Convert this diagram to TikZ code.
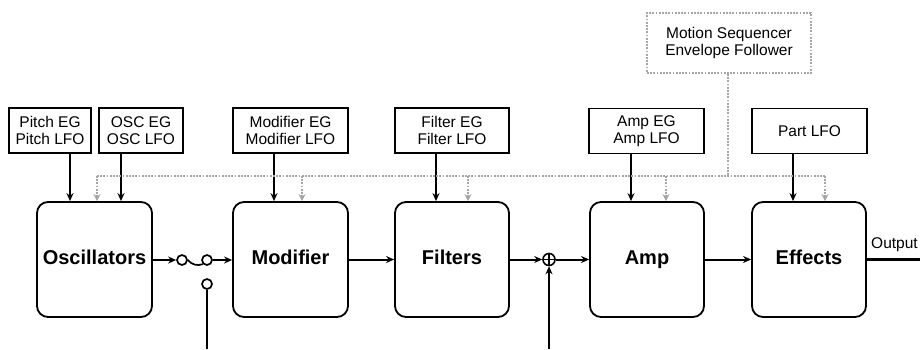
\documentclass[tikz,border=0pt]{standalone}
\usepackage{fontspec}
\setmainfont{Liberation Sans}
\usetikzlibrary{arrows.meta}
\tikzset{
  srcbox/.style={draw, line width=1.8pt, minimum height=45pt, inner sep=0pt, align=center, font=\fontsize{15.5}{17}\selectfont},
  mainbox/.style={draw, line width=1.8pt, rounded corners=11pt, minimum width=115pt, minimum height=115pt, inner sep=0pt, text height=14.5pt, text depth=4.5pt, font=\fontsize{20}{24}\selectfont\bfseries},
  arr/.style={line width=2pt, -{Stealth[length=8pt,width=7pt]}},
  sig/.style={line width=2.2pt},
  dotline/.style={gray!70, line width=2pt, dash pattern=on 1.8pt off 1.4pt},
  dotarr/.style={dotline, -{Stealth[length=7pt,width=7pt,gray!70]}},
  jack/.style={circle, draw, line width=1.7pt, fill=white, minimum size=10pt, inner sep=0pt}
}
\begin{document}
\begin{tikzpicture}[x=1pt,y=-1pt]
\useasboundingbox (0,0) rectangle (920,349);
% source boxes
\node[srcbox, minimum width=82pt] (pitch) at (50,130.5) {Pitch EG\\Pitch LFO};
\node[srcbox, minimum width=84pt] (osceg) at (141,130.5) {OSC EG\\OSC LFO};
\node[srcbox, minimum width=115pt] (modeg) at (290.5,130.5) {Modifier EG\\Modifier LFO};
\node[srcbox, minimum width=114pt] (filteg) at (452,130.5) {Filter EG\\Filter LFO};
\node[srcbox, minimum width=115pt] (ampeg) at (646.5,131) {Amp EG\\Amp LFO};
\node[srcbox, minimum width=115pt] (partlfo) at (809.5,131) {Part LFO};
\node[srcbox, minimum width=164pt, minimum height=60pt, draw=gray!70, dash pattern=on 1.8pt off 1.4pt, line width=2pt] (motion) at (729,43) {Motion Sequencer\\Envelope Follower};
% main boxes
\node[mainbox] (osc) at (94.5,259.5) {Oscillators};
\node[mainbox] (mod) at (290.5,259.5) {Modifier};
\node[mainbox, minimum width=114pt] (filt) at (452,259.5) {Filters};
\node[mainbox, minimum width=114pt] (amp) at (647,259.5) {Amp};
\node[mainbox, minimum width=114pt] (eff) at (809,259.5) {Effects};
% solid modulation arrows
\draw[arr] (pitch.south -| 70,0) -- (osc.north -| 70,0);
\draw[arr] (osceg.south -| 121,0) -- (osc.north -| 121,0);
\draw[arr] (modeg.south -| 274,0) -- (mod.north -| 274,0);
\draw[arr] (filteg.south -| 436,0) -- (filt.north -| 436,0);
\draw[arr] (ampeg.south -| 631,0) -- (amp.north -| 631,0);
\draw[arr] (partlfo.south -| 793,0) -- (eff.north -| 793,0);
% dotted bus
\coordinate (busL) at (97,176);
\coordinate (busR) at (825,176);
\coordinate (busM) at (728,176);
\draw[dotline] (motion.south -| busM) -- (busM);
\draw[dotline] (busL) -- (busR);
\draw[dotarr] (busL) -- (osc.north -| busL);
\draw[dotarr] (302,176) -- (mod.north -| 302,0);
\draw[dotarr] (468,176) -- (filt.north -| 468,0);
\draw[dotarr] (666,176) -- (amp.north -| 666,0);
\draw[dotarr] (busR) -- (eff.north -| busR);
% switch
\node[jack] (c1) at (182,260) {};
\node[jack] (c2) at (207,260) {};
\node[jack] (c3) at (207,284) {};
\coordinate (inA) at (207,349);
\draw[arr] (osc.east |- c1) -- (c1.west);
\draw[line width=1.7pt] (c1.east) to[bend right=35] (c2.south west);
\draw[arr] (c2.east) -- (mod.west |- c2);
\draw[sig] (c3.south) -- (inA);
% modifier -> filters
\draw[arr] (mod.east) -- (filt.west);
% adder
\node[circle, draw, line width=1.6pt, fill=white, minimum size=12pt, inner sep=0pt] (plus) at (549,259.5) {};
\draw[line width=1.1pt] (plus.north) -- (plus.south) (plus.west) -- (plus.east);
\coordinate (inB) at (549,349);
\draw[arr] (filt.east) -- (plus.west);
\draw[arr] (plus.east) -- (amp.west);
\draw[arr] (inB) -- (plus.south);
% amp -> effects -> output
\draw[arr] (amp.east) -- (eff.west);
\coordinate (outR) at (920,259.5);
\draw[sig] (eff.east) -- (outR);
\node[anchor=south west, inner sep=0pt, font=\fontsize{15.5}{17}\selectfont] (outlbl) at (871,252) {Output};
\end{tikzpicture}
\end{document}
